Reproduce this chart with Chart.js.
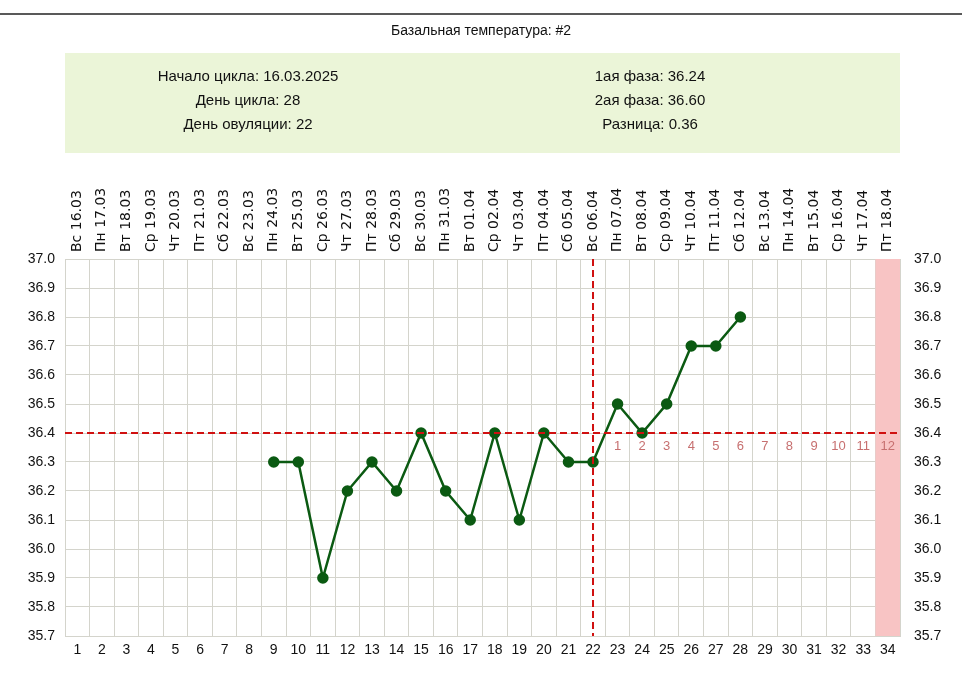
<!DOCTYPE html>
<html><head><meta charset="utf-8">
<script src="https://cdn.jsdelivr.net/npm/chart.js@4"></script>
<style>html,body{margin:0;padding:0;background:#fff}#wrap{width:962px;height:675px}</style>
</head><body><div id="wrap"><canvas id="c"></canvas></div>
<script>
const days = Array.from({length:34},(_,i)=>String(i+1));
const dates = ["Вс 16.03","Пн 17.03","Вт 18.03","Ср 19.03","Чт 20.03","Пт 21.03","Сб 22.03","Вс 23.03","Пн 24.03","Вт 25.03","Ср 26.03","Чт 27.03","Пт 28.03","Сб 29.03","Вс 30.03","Пн 31.03","Вт 01.04","Ср 02.04","Чт 03.04","Пт 04.04","Сб 05.04","Вс 06.04","Пн 07.04","Вт 08.04","Ср 09.04","Чт 10.04","Пт 11.04","Сб 12.04","Вс 13.04","Пн 14.04","Вт 15.04","Ср 16.04","Чт 17.04","Пт 18.04"];
const temps = [null,null,null,null,null,null,null,null,36.3,36.3,35.9,36.2,36.3,36.2,36.4,36.2,36.1,36.4,36.1,36.4,36.3,36.3,36.5,36.4,36.5,36.7,36.7,36.8,null,null,null,null,null,null];
const coverLine = 36.4;
const ovulationDay = 22;
const phaseLabels = ["1","2","3","4","5","6","7","8","9","10","11","12"];
const highlightDay = 34;
const title = "Базальная температура: #2";
const infoLeft = ["Начало цикла: 16.03.2025","День цикла: 28","День овуляции: 22"];
const infoRight = ["1ая фаза: 36.24","2ая фаза: 36.60","Разница: 0.36"];

const F = '"Liberation Sans", Arial, sans-serif';
const deco = {
  id:'deco',
  beforeDatasetsDraw(ch){
    const {ctx,chartArea:a,scales:{x,y}} = ch;
    const w = x.getPixelForValue(1)-x.getPixelForValue(0);
    ctx.save();
    const hx = x.getPixelForValue(highlightDay-1);
    ctx.fillStyle='#f8c4c4';
    ctx.fillRect(hx-w/2,a.top,w,a.bottom-a.top);
    ctx.restore();
  },
  afterDatasetsDraw(ch){
    const {ctx,chartArea:a,scales:{x,y}} = ch;
    ctx.save();
    ctx.strokeStyle='#222';ctx.lineWidth=1.5;
    ctx.beginPath();ctx.moveTo(0,14);ctx.lineTo(962,14);ctx.stroke();
    ctx.fillStyle='#111';ctx.font='14px '+F;ctx.textAlign='center';ctx.textBaseline='middle';
    ctx.fillText(title,481,31);
    ctx.fillStyle='#ebf5d8';ctx.fillRect(a.left,53,a.right-a.left,100);
    ctx.fillStyle='#111';ctx.font='15px '+F;
    infoLeft.forEach((t,i)=>ctx.fillText(t,248,77+i*24));
    infoRight.forEach((t,i)=>ctx.fillText(t,650,77+i*24));
    ctx.font='14px "DejaVu Sans", sans-serif';ctx.textAlign='left';
    dates.forEach((d,i)=>{
      const px=x.getPixelForValue(i);
      ctx.save();ctx.translate(px,252);ctx.rotate(-Math.PI/2);
      ctx.scale(1.0,1.0);ctx.fillText(d,0,0);ctx.restore();
    });
    ctx.strokeStyle='#d01010';ctx.lineWidth=2;ctx.setLineDash([7,4]);
    const cy=y.getPixelForValue(coverLine);
    ctx.beginPath();ctx.moveTo(a.left,cy);ctx.lineTo(a.right,cy);ctx.stroke();
    const ox=x.getPixelForValue(ovulationDay-1);
    ctx.beginPath();ctx.moveTo(ox,a.top);ctx.lineTo(ox,a.bottom);ctx.stroke();
    ctx.setLineDash([]);
    ctx.fillStyle='#c77070';ctx.font='13px '+F;ctx.textAlign='center';
    phaseLabels.forEach((t,i)=>ctx.fillText(t,x.getPixelForValue(ovulationDay+i),cy+13));
    ctx.restore();
  }
};
new Chart(document.getElementById('c'),{
  type:'line',
  data:{labels:days,datasets:[{data:temps,borderColor:'#0b5a12',backgroundColor:'#0b5a12',borderWidth:2.5,pointRadius:4.5,pointHoverRadius:4.5,spanGaps:false,tension:0}]},
  options:{
    responsive:true,maintainAspectRatio:false,animation:false,
    layout:{padding:{top:259,left:0,right:0,bottom:0}},
    plugins:{legend:{display:false},tooltip:{enabled:false}},
    scales:{
      x:{type:'category',offset:true,grid:{offset:true,color:'#d4d4cc',drawTicks:false},border:{color:'#d4d4cc'},
         ticks:{color:'#111',font:{size:14,family:F},maxRotation:0,autoSkip:false,padding:6},
         afterFit(s){s.height=39;}},
      y:{position:'left',min:35.7,max:37.0,grid:{color:'#d4d4cc',drawTicks:false},border:{color:'#d4d4cc'},
         ticks:{stepSize:0.1,color:'#111',font:{size:14,family:F},padding:10,callback:v=>v.toFixed(1)},
         afterFit(s){s.width=65;}},
      y2:{position:'right',min:35.7,max:37.0,grid:{display:false},border:{display:false},
         ticks:{stepSize:0.1,color:'#111',font:{size:14,family:F},padding:6,callback:v=>v.toFixed(1)},
         afterFit(s){s.width=62;}}
    }
  },
  plugins:[deco]
});
</script></body></html>
